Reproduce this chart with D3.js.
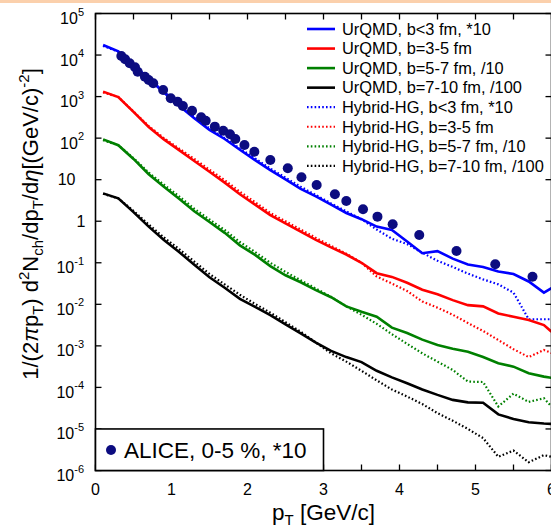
<!DOCTYPE html>
<html><head><meta charset="utf-8">
<script src="https://cdn.jsdelivr.net/npm/d3@7"></script>
<style>body{margin:0;background:#fff} svg{display:block} text{font-family:"Liberation Sans",Arial,Helvetica,sans-serif;fill:#000}</style>
</head><body><svg id="c" width="551" height="532"></svg>
<script>
// ---- data ----
const pT = [0.1,0.3,0.5,0.7,0.9,1.1,1.3,1.5,1.7,1.9,2.1,2.3,2.5,2.7,2.9,3.1,3.3,3.5,3.7,3.9,4.1,4.3,4.5,4.7,4.9,5.1,5.3,5.5,5.7,5.9,6.0];
const urqmd_b0_3 = [1.74e4,1.23e4,5.75e3,2.69e3,1.26e3,603,302,158,95.5,52.5,29.5,17.0,10.2,6.03,3.98,2.51,1.58,1.12,0.741,0.617,0.324,0.170,0.191,0.126,0.0912,0.0794,0.0617,0.0537,0.0355,0.0191,0.0245];
const urqmd_b3_5 = [1318,977,427,186,93.3,51.3,28.2,15.5,8.51,4.47,2.51,1.41,0.891,0.562,0.355,0.234,0.158,0.100,0.0562,0.0457,0.0331,0.0224,0.0174,0.0126,0.00955,0.00891,0.00603,0.00501,0.00417,0.00316,0.00219];
const urqmd_b5_7 = [93.3,67.6,31.6,13.5,6.76,3.47,1.74,0.955,0.525,0.263,0.155,0.0832,0.0501,0.0339,0.0219,0.0148,0.00891,0.00661,0.00501,0.00275,0.00204,0.00141,0.00105,0.000851,0.000724,0.000537,0.000380,0.000316,0.000219,0.000182,0.000170];
const urqmd_b7_10 = [4.68,3.55,1.66,0.741,0.355,0.182,0.0891,0.0447,0.0251,0.0135,0.00871,0.00550,0.00331,0.00200,0.00120,0.000759,0.000537,0.000407,0.000251,0.000174,0.000126,8.91e-5,6.61e-5,5.01e-5,4.37e-5,4.27e-5,2.24e-5,1.74e-5,1.45e-5,1.35e-5,1.32e-5];
const hybrid_b0_3 = [1.66e4,1.20e4,6.03e3,2.75e3,1.32e3,631,324,170,100,56.2,32.4,18.6,11.2,6.76,4.27,2.69,1.74,1.12,0.631,0.380,0.282,0.174,0.112,0.0794,0.0550,0.0398,0.0302,0.0191,0.00437,0.00437,0.00437];
const hybrid_b3_5 = [1259,977,437,195,100,56.2,31.6,17.4,9.77,5.13,2.88,1.58,1.00,0.631,0.398,0.257,0.166,0.100,0.0468,0.0316,0.0209,0.0117,0.00832,0.00562,0.00355,0.00229,0.00138,0.000832,0.000537,0.000794,0.000676];
const hybrid_b5_7 = [89.1,67.6,33.1,14.8,7.59,3.98,2.00,1.10,0.617,0.316,0.182,0.100,0.0603,0.0380,0.0240,0.0151,0.00891,0.00562,0.00339,0.00191,0.00112,0.000661,0.000417,0.000263,0.000138,0.000135,3.47e-5,7.08e-5,4.47e-5,5.50e-5,3.47e-5];
const hybrid_b7_10 = [4.57,3.55,1.78,0.832,0.407,0.214,0.107,0.0537,0.0302,0.0170,0.0102,0.00631,0.00372,0.00219,0.00120,0.000661,0.000417,0.000251,0.000148,8.91e-5,6.03e-5,3.98e-5,2.40e-5,1.58e-5,1.00e-5,6.03e-6,2.14e-6,3.02e-6,1.58e-6,2.34e-6,2.14e-6];
const alice_pT = [0.34,0.39,0.45,0.52,0.555,0.65,0.70,0.76,0.89,0.99,1.08,1.15,1.27,1.39,1.45,1.57,1.68,1.77,1.84,1.96,2.09,2.30,2.53,2.71,2.91,3.15,3.30,3.52,3.71,3.91,4.26,4.75,5.26,5.75];
const alice_val = [9.50e3,7.91e3,6.32e3,5.07e3,3.97e3,3.01e3,2.51e3,2.09e3,1.44e3,910,753,594,458,318,263,189,151,124,95.5,68.4,47.2,29.8,18.8,11.4,7.45,4.46,3.07,1.94,1.29,0.845,0.467,0.192,0.0920,0.0462];
const seriesNames = ["UrQMD, b<3 fm, *10","UrQMD, b=3-5 fm","UrQMD, b=5-7 fm, /10","UrQMD, b=7-10 fm, /100","Hybrid-HG, b<3 fm, *10","Hybrid-HG, b=3-5 fm","Hybrid-HG, b=5-7 fm, /10","Hybrid-HG, b=7-10 fm, /100"];
const seriesValues = [urqmd_b0_3,urqmd_b3_5,urqmd_b5_7,urqmd_b7_10,hybrid_b0_3,hybrid_b3_5,hybrid_b5_7,hybrid_b7_10];
const seriesColors = ["#0000ff","#ff0000","#008000","#000000","#0000ff","#ff0000","#008000","#000000"];
const seriesDotted = [false,false,false,false,true,true,true,true];
const aliceLabel = "ALICE, 0-5 %, *10";
const xTicks = [0,1,2,3,4,5,6];
const yExponents = [-6,-5,-4,-3,-2,-1,0,1,2,3,4,5];

// ---- layout ----
const svg = d3.select("#c");
const L=95.5, R=551.5, T=13.5, B=470.5;
const x = d3.scaleLinear().domain([0,6]).range([L,R]);
const y = d3.scaleLog().domain([1e-6,1e5]).range([B,T]);

// top orange band
svg.append("rect").attr("x",0).attr("y",0).attr("width",551).attr("height",3).attr("fill","#fbd0ac");

svg.append("defs").append("clipPath").attr("id","clip").append("rect")
  .attr("x",L).attr("y",T).attr("width",R-L).attr("height",B-T);

const line = d3.line().x((d,i)=>x(pT[i])).y(d=>y(d));
const g = svg.append("g").attr("clip-path","url(#clip)");
const order=[4,5,6,7,0,1,2,3];
order.forEach(k=>{
  g.append("path").attr("d",line(seriesValues[k]))
   .attr("fill","none").attr("stroke",seriesColors[k])
   .attr("stroke-width",seriesDotted[k]?2.2:2.6)
   .attr("stroke-dasharray",seriesDotted[k]?"1.6,2.2":null);
});
g.selectAll("circle.al").data(alice_val).enter().append("circle")
  .attr("cx",(d,i)=>x(alice_pT[i])).attr("cy",d=>y(d)).attr("r",5).attr("fill","#0c0c80");

// axes ticks
const tickLen=6;
const ax = svg.append("g").attr("stroke","#000").attr("stroke-width",1.3);
d3.range(0,6.01,0.5).forEach(v=>{
  ax.append("line").attr("x1",x(v)).attr("x2",x(v)).attr("y1",B).attr("y2",B-tickLen);
  ax.append("line").attr("x1",x(v)).attr("x2",x(v)).attr("y1",T).attr("y2",T+tickLen);
});
yExponents.forEach(e=>{
  const yy=y(Math.pow(10,e));
  ax.append("line").attr("x1",L).attr("x2",L+tickLen).attr("y1",yy).attr("y2",yy);
  ax.append("line").attr("x1",R).attr("x2",R-tickLen).attr("y1",yy).attr("y2",yy);
});
svg.append("rect").attr("x",L).attr("y",T).attr("width",R-L).attr("height",B-T)
  .attr("fill","none").attr("stroke","#000").attr("stroke-width",1.6);

// x tick labels
xTicks.forEach(v=>{
  svg.append("text").attr("x",x(v)).attr("y",495).attr("text-anchor","middle")
    .attr("font-size",16).text(v);
});
// y tick labels
yExponents.forEach(e=>{
  const yy=y(Math.pow(10,e));
  if(e===0){
    svg.append("text").attr("x",85.5).attr("y",yy+5.5).attr("text-anchor","end").attr("font-size",16).text("1");
  } else if(e===1){
    svg.append("text").attr("x",75.5).attr("y",yy+5.5).attr("text-anchor","end").attr("font-size",16).text("10");
  } else {
    const t=svg.append("text").attr("x",84).attr("y",yy+10.5).attr("text-anchor","end").attr("font-size",16);
    t.append("tspan").text("10");
    t.append("tspan").attr("font-size",11).attr("dy",-8.5).text(String(e));
  }
});

// axis titles
const xt=svg.append("text").attr("x",323.5).attr("y",520).attr("text-anchor","middle").attr("font-size",22.5);
xt.append("tspan").text("p");
xt.append("tspan").attr("font-size",15).attr("dy",5).text("T");
xt.append("tspan").attr("dy",-5).text(" [GeV/c]");

const yt=svg.append("text").attr("transform","translate(38,224) rotate(-90)").attr("text-anchor","middle").attr("font-size",22);
yt.append("tspan").text("1/(2");
yt.append("tspan").attr("font-style","italic").text("π");
yt.append("tspan").text("p");
yt.append("tspan").attr("font-size",15).attr("dy",5).text("T");
yt.append("tspan").attr("dy",-5).text(") d");
yt.append("tspan").attr("font-size",15).attr("dy",-9).text("2");
yt.append("tspan").attr("dy",9).text("N");
yt.append("tspan").attr("font-size",15).attr("dy",5).text("ch");
yt.append("tspan").attr("dy",-5).text("/dp");
yt.append("tspan").attr("font-size",15).attr("dy",5).text("T");
yt.append("tspan").attr("dy",-5).text("/d");
yt.append("tspan").attr("font-style","italic").text("η");
yt.append("tspan").text("[(GeV/c)");
yt.append("tspan").attr("font-size",15).attr("dy",-9).text("-2");
yt.append("tspan").attr("dy",9).text("]");

// legend (top right)
const lg = svg.append("g");
seriesNames.forEach((n,k)=>{
  const yy = 29 + k*19.55;
  lg.append("line").attr("x1",307).attr("x2",335).attr("y1",yy).attr("y2",yy)
    .attr("stroke",seriesColors[k]).attr("stroke-width",seriesDotted[k]?2.2:2.6)
    .attr("stroke-dasharray",seriesDotted[k]?"1.6,2.2":null);
  lg.append("text").attr("x",342).attr("y",yy+5.8).attr("font-size",16.4).text(n);
});

// ALICE legend box
svg.append("rect").attr("x",L).attr("y",y(1e-5)).attr("width",x(3)-L).attr("height",B-y(1e-5))
  .attr("fill","#fff").attr("stroke","#000").attr("stroke-width",1.6);
svg.append("circle").attr("cx",111).attr("cy",450).attr("r",5).attr("fill","#0c0c80");
svg.append("text").attr("x",124).attr("y",458).attr("font-size",22.5).text(aliceLabel);
</script></body></html>
